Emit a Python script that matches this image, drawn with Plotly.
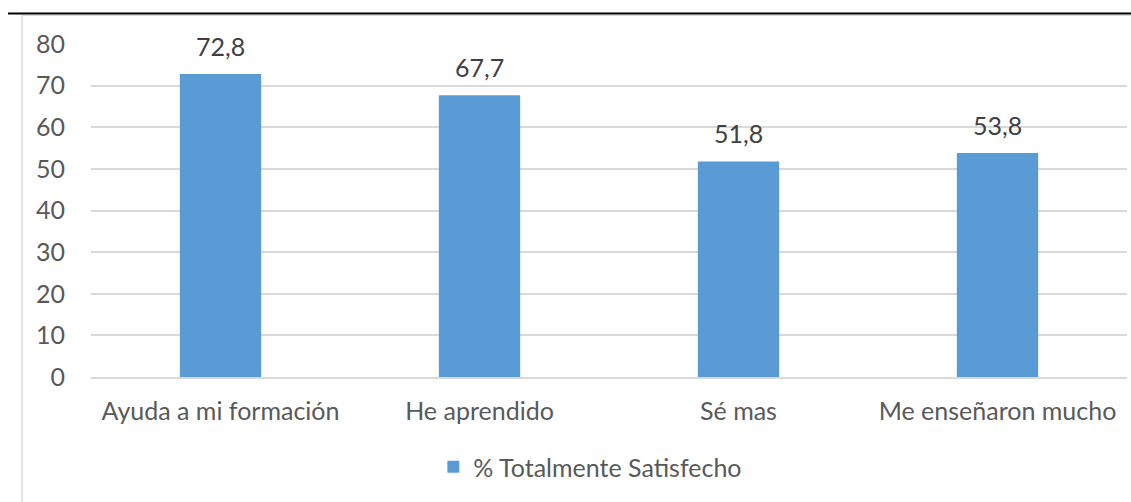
import plotly.graph_objects as go

categories = ["Ayuda a mi formación", "He aprendido", "Sé mas", "Me enseñaron mucho"]
values = [72.8, 67.7, 51.8, 53.8]
labels = ["72,8", "67,7", "51,8", "53,8"]
series_name = "% Totalmente Satisfecho"

W, H = 1131, 502
L, R, T, B = 91, 4, 44, 125
FONT = "Lato, Open Sans, sans-serif"
FS = 25

fig = go.Figure()
fig.add_trace(go.Bar(
    x=categories, y=values, name=series_name,
    marker=dict(color="#5B9BD5", line=dict(width=0)),
    showlegend=True,
))
for c, v, t in zip(categories, values, labels):
    fig.add_annotation(x=c, y=v, text=t, showarrow=False, yanchor="middle", yshift=28,
                       font=dict(family=FONT, size=FS, color="#404040"))

pw, ph = W - L - R, H - T - B
def px(x):
    return (x - L) / pw
def py(y):
    return (H - B - y) / ph

fig.update_layout(
    width=W, height=H,
    margin=dict(l=L, r=R, t=T, b=B, autoexpand=False),
    paper_bgcolor="white", plot_bgcolor="white",
    font=dict(family=FONT, size=FS, color="#595959"),
    bargap=0.686,
    showlegend=True,
    legend=dict(orientation="h", x=0.482, xanchor="center", y=py(467), yanchor="middle",
                font=dict(size=FS, color="#595959"), itemwidth=30),
    xaxis=dict(showgrid=False, showline=True, linecolor="#D9D9D9", linewidth=1.5,
               ticks="", ticklabelstandoff=11, tickfont=dict(size=FS, color="#595959")),
    yaxis=dict(range=[0, 80], dtick=10, showgrid=True, gridcolor="#D9D9D9", gridwidth=1.5,
               zeroline=False, showline=False, ticks="", ticklabelstandoff=25,
               tickfont=dict(size=FS, color="#595959")),
    shapes=[
        dict(type="line", xref="paper", yref="paper", x0=px(8), x1=px(W), y0=py(13.5), y1=py(13.5),
             line=dict(color="black", width=2)),
        dict(type="line", xref="paper", yref="paper", x0=px(22), x1=px(W), y0=py(15.5), y1=py(15.5),
             line=dict(color="#D9D9D9", width=1)),
        dict(type="line", xref="paper", yref="paper", x0=px(22), x1=px(22), y0=py(15), y1=py(H),
             line=dict(color="#D9D9D9", width=1.5)),
    ],
)
fig.write_html("out.html", config={"displayModeBar": False},
               post_script="document.body.style.margin='0';")
